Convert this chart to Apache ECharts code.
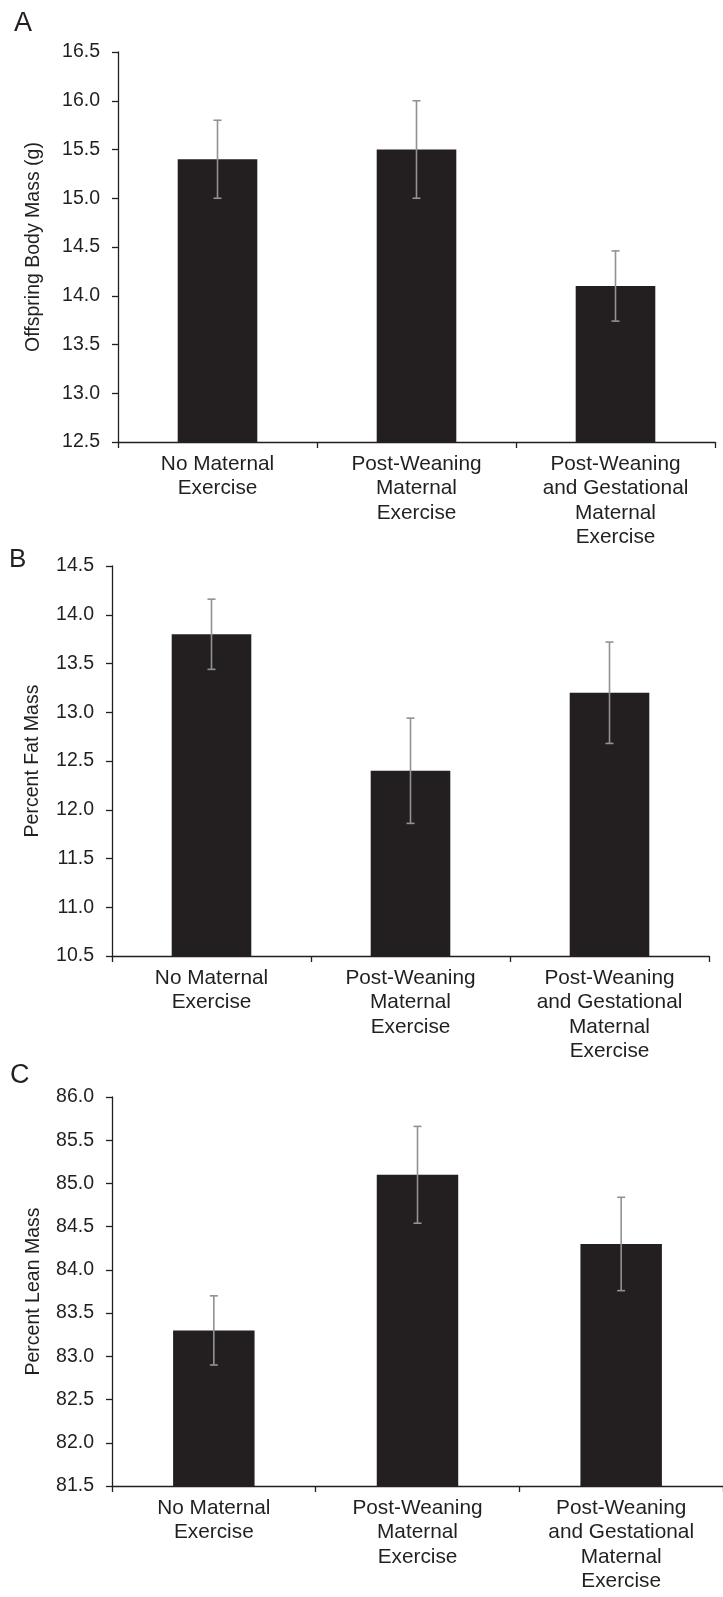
<!DOCTYPE html>
<html>
<head>
<meta charset="utf-8">
<script src="https://cdn.jsdelivr.net/npm/echarts@6/dist/echarts.min.js"></script>
<style>
  html, body { margin: 0; padding: 0; background: #fff; }
  #chart { width: 723px; height: 1597px; }
</style>
</head>
<body>
<div id="chart"></div>
<script>
var categories = [
  'No Maternal\nExercise',
  'Post-Weaning\nMaternal\nExercise',
  'Post-Weaning\nand Gestational\nMaternal\nExercise'
]

// panel A
var bodyMass = [15.4, 15.5, 14.1]
var bodyMassErr = [0.4, 0.5, 0.36]
// panel B
var fatMass = [13.8, 12.4, 13.2]
var fatMassErr = [0.36, 0.54, 0.52]
// panel C
var leanMass = [83.3, 85.1, 84.3]
var leanMassErr = [0.4, 0.56, 0.54]

var axisRanges = [
  { min: 12.5, max: 16.5 },
  { min: 10.5, max: 14.5 },
  { min: 81.5, max: 86.0 }
]
var axisNames = ['Offspring Body Mass (g)', 'Percent Fat Mass', 'Percent Lean Mass']

var ink = '#231f20'
var font = '"Liberation Sans", Arial, Helvetica, sans-serif'

var grids = [
  { left: 118, top: 52, width: 597, height: 390 },
  { left: 112, top: 566, width: 597, height: 390 },
  { left: 112, top: 1097, width: 618, height: 389 }
]
var nameGaps = [74, 69, 68]

function errorData(values, errs) {
  return values.map(function (v, i) {
    return [i, v + errs[i], v - errs[i]]
  })
}

function renderErrorBar(params, api) {
  var top = api.coord([api.value(0), api.value(1)])
  var bottom = api.coord([api.value(0), api.value(2)])
  var half = 4
  var style = { stroke: '#929292', lineWidth: 1.6 }
  return {
    type: 'group',
    children: [
      { type: 'line', shape: { x1: top[0], y1: top[1], x2: bottom[0], y2: bottom[1] }, style: style },
      { type: 'line', shape: { x1: top[0] - half, y1: top[1], x2: top[0] + half, y2: top[1] }, style: style },
      { type: 'line', shape: { x1: bottom[0] - half, y1: bottom[1], x2: bottom[0] + half, y2: bottom[1] }, style: style }
    ]
  }
}

var panels = [
  [bodyMass, bodyMassErr],
  [fatMass, fatMassErr],
  [leanMass, leanMassErr]
]

var xAxes = []
var yAxes = []
var series = []

panels.forEach(function (p, i) {
  xAxes.push({
    type: 'category',
    gridIndex: i,
    data: categories,
    axisLine: { lineStyle: { color: ink, width: 1.3 } },
    axisTick: { show: true, length: 6, lineStyle: { color: ink, width: 1.3 } },
    axisLabel: {
      interval: 0,
      color: ink,
      fontFamily: font,
      fontSize: 20.8,
      lineHeight: 24.5,
      margin: 10
    },
    splitLine: { show: false }
  })
  yAxes.push({
    type: 'value',
    gridIndex: i,
    min: axisRanges[i].min,
    max: axisRanges[i].max,
    interval: 0.5,
    name: axisNames[i],
    nameLocation: 'middle',
    nameGap: nameGaps[i],
    nameTextStyle: { color: ink, fontFamily: font, fontSize: 19.5 },
    axisLine: { show: true, lineStyle: { color: ink, width: 1.3 } },
    axisTick: { show: true, length: 6, lineStyle: { color: ink, width: 1.3 } },
    axisLabel: {
      color: ink,
      fontFamily: font,
      fontSize: 19.5,
      margin: 18,
      formatter: function (v) { return v.toFixed(1) }
    },
    splitLine: { show: false }
  })
  series.push({
    type: 'bar',
    xAxisIndex: i,
    yAxisIndex: i,
    data: p[0],
    barWidth: '40%',
    itemStyle: { color: ink },
    silent: true
  })
  series.push({
    type: 'custom',
    xAxisIndex: i,
    yAxisIndex: i,
    data: errorData(p[0], p[1]),
    encode: { x: 0, y: [1, 2] },
    renderItem: renderErrorBar,
    z: 3,
    silent: true
  })
})

var letters = [
  { text: 'A', left: 14, top: 10, size: 27 },
  { text: 'B', left: 9, top: 547, size: 26 },
  { text: 'C', left: 10, top: 1062, size: 27 }
]

var chart = echarts.init(document.getElementById('chart'))
chart.setOption({
  animation: false,
  backgroundColor: '#fff',
  grid: grids,
  xAxis: xAxes,
  yAxis: yAxes,
  series: series,
  graphic: letters.map(function (l) {
    return {
      type: 'text',
      left: l.left,
      top: l.top,
      style: { text: l.text, fill: ink, fontFamily: font, fontSize: l.size }
    }
  })
})
</script>
</body>
</html>
